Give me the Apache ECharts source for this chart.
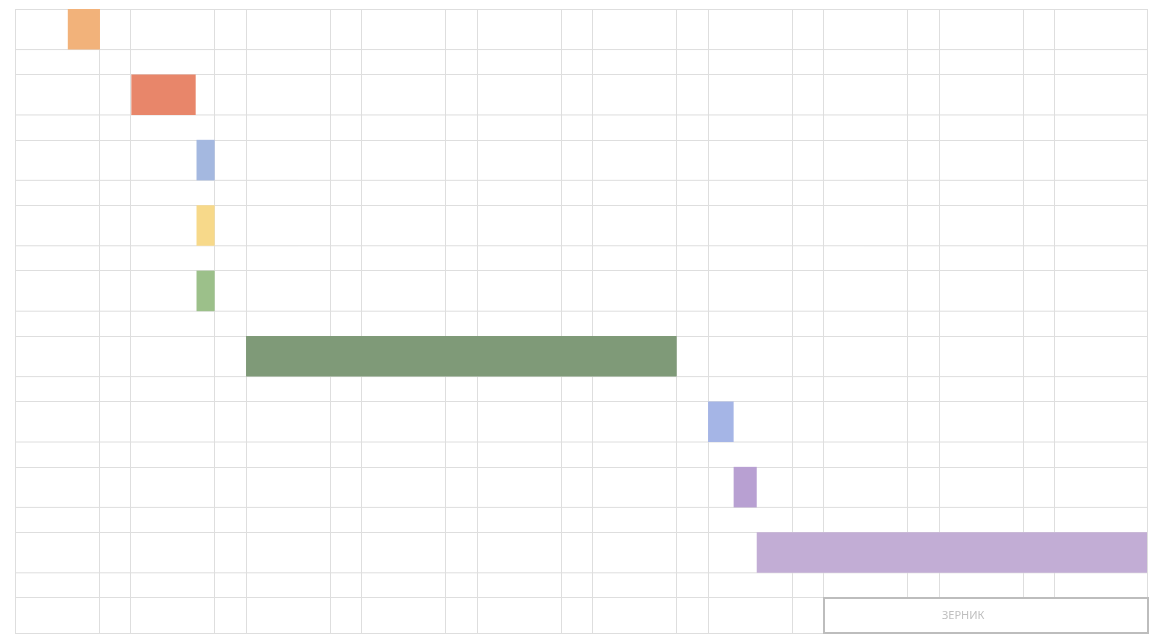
<!DOCTYPE html>
<html>
<head>
<meta charset="utf-8">
<script src="https://cdn.jsdelivr.net/npm/echarts@6/dist/echarts.min.js"></script>
<style>
  html, body { margin: 0; padding: 0; background: #ffffff; }
  #chart { width: 1156px; height: 638px; }
</style>
</head>
<body>
<div id="chart"></div>
<script>
// ---- data (days from project start) ----
const tasks  = ['Задача 1', 'Задача 2', 'Задача 3', 'Задача 4', 'Задача 5', 'Задача 6', 'Задача 7', 'Задача 8', 'Задача 9'];
const starts = [3.2, 7.05, 11, 11, 11, 14, 42, 43.55, 44.95];
const ends   = [5.15, 10.95, 12.1, 12.1, 12.1, 40.1, 43.55, 44.95, 68.6];
const weekStarts   = [0, 7, 14, 21, 28, 35, 42, 49, 56, 63];
const workweekEnds = [5.1, 12.1, 19.1, 26.1, 33.1, 40.1, 47.1, 54.1, 61.1];
const totalDays = 68.6;
const totalRows = 9.54;
const buttonText = 'ЗЕРНИК';

// ---- styles ----
const palette = ['#F2B27A', '#E8866A', '#A4B8E0', '#F7D98A', '#9CC08A', '#7F9A78', '#A5B5E6', '#B8A0D2', '#C2ADD5'];
const GRID = '#DEDEDE';
const BAR_FRAC = 0.62;

const chart = echarts.init(document.getElementById('chart'));
chart.setOption({
  backgroundColor: '#ffffff',
  animation: false,
  grid: { left: 15, right: 9, top: 9, bottom: 5, containLabel: false },
  xAxis: {
    type: 'value', min: 0, max: totalDays, interval: 7,
    axisLine: { show: false }, axisTick: { show: false }, axisLabel: { show: false },
    splitLine: { show: true, lineStyle: { color: GRID, width: 1 } }
  },
  yAxis: {
    type: 'value', inverse: true, min: 0, max: totalRows, interval: 1,
    axisLine: { show: false }, axisTick: { show: false }, axisLabel: { show: false },
    splitLine: { show: true, lineStyle: { color: GRID, width: 1 } }
  },
  series: [
    {
      type: 'line', data: [], z: 1, silent: true,
      markLine: {
        silent: true, symbol: 'none', z: 1, animation: false,
        label: { show: false },
        lineStyle: { color: GRID, width: 1, type: 'solid' },
        data: workweekEnds.map(d => ({ xAxis: d }))
      }
    },
    {
      type: 'custom', z: 3,
      encode: { x: [1, 2], y: 0 },
      data: tasks.map((t, i) => [i, starts[i], ends[i], t]),
      renderItem: function (params, api) {
        const row = api.value(0);
        const p0 = api.coord([api.value(1), row]);
        const p1 = api.coord([api.value(2), row + BAR_FRAC]);
        const cs = params.coordSys;
        return {
          type: 'group',
          children: [
            { type: 'line', shape: { x1: cs.x, y1: p1[1], x2: cs.x + cs.width, y2: p1[1] },
              style: { stroke: GRID, lineWidth: 1 } },
            { type: 'rect', shape: { x: p0[0], y: p0[1], width: p1[0] - p0[0], height: p1[1] - p0[1] },
              style: { fill: palette[params.dataIndex % palette.length] } }
          ]
        };
      }
    }
  ],
  graphic: [
    {
      type: 'rect', right: 7, bottom: 4, z: 100,
      shape: { width: 324, height: 35 },
      style: { fill: '#ffffff', stroke: '#BDBDBD', lineWidth: 2 }
    },
    {
      type: 'text', left: 942, top: 610, z: 101,
      style: { text: buttonText, fill: '#BFBFBF', font: '11px "Noto Sans"', letterSpacing: 1 }
    }
  ]
});
</script>
</body>
</html>
